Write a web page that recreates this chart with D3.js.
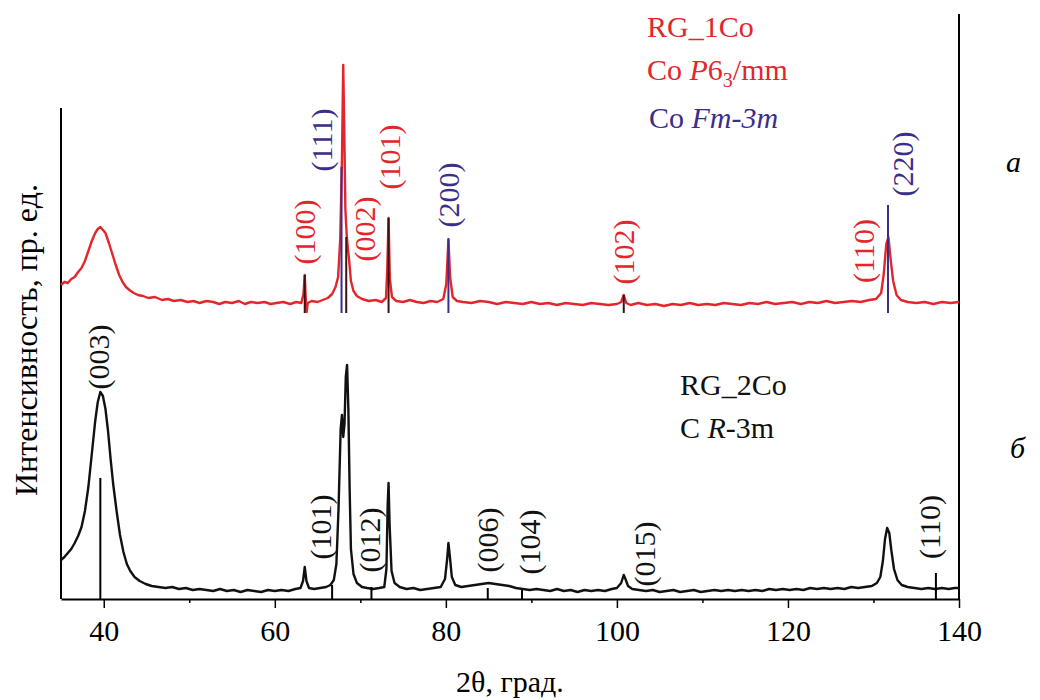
<!DOCTYPE html>
<html>
<head>
<meta charset="utf-8">
<script src="https://cdn.jsdelivr.net/npm/d3@7"></script>
<style>
  body { margin: 0; background: #fff; }
  svg text { font-family: "Liberation Serif", "Times New Roman", serif; }
</style>
</head>
<body>
<div id="chart"></div>
<script>
// top pattern RG_1Co (red), [2theta, intensity]
var topSeries = [[35,314],[35.4,317],[35.8,316],[36.2,320],[36.6,322],[37,327],[37.4,331],[37.8,338],[38.2,348],[38.6,358],[39,366],[39.3,370],[39.6,372],[39.9,369],[40.2,366],[40.6,356],[41,345],[41.4,334],[41.8,324],[42.2,317],[42.6,312],[43,309],[43.5,306],[44,304],[44.6,303],[45.2,301],[46,302],[46.8,299],[47.5,300],[48.2,298],[49,299],[49.8,297],[50.5,298],[51.2,296],[52,298],[52.8,297],[53.5,295],[54.2,297],[55,296],[55.8,298],[56.5,295],[57.2,297],[58,296],[58.8,297],[59.5,295],[60.2,296],[61,297],[61.8,295],[62.5,297],[63.1,296],[63.35,305],[63.5,324],[63.62,300],[63.72,287],[63.85,296],[64.3,298],[65,297],[65.6,299],[66.2,301],[66.7,305],[67.1,312],[67.4,322],[67.65,360],[67.85,440],[68,534],[68.12,470],[68.25,390],[68.4,365],[68.55,350],[68.7,338],[68.9,318],[69.2,308],[69.6,303],[70.2,300],[71,298],[71.8,299],[72.5,297],[73,301],[73.15,330],[73.3,381],[73.45,320],[73.7,302],[74.2,298],[75,297],[75.8,299],[76.6,297],[77.4,296],[78.2,298],[79,297],[79.7,300],[80.05,315],[80.3,359],[80.5,322],[80.8,302],[81.3,298],[82,297],[83,296],[84,298],[85,297],[86,295],[87,297],[88,296],[89,295],[90,297],[91,295],[92,296],[93,294],[94,296],[95,295],[96,294],[97,296],[98,295],[99,294],[100,295],[100.5,297],[100.8,304],[101.1,296],[101.6,294],[102.5,296],[103.5,294],[104.5,295],[105.5,293],[106.5,295],[107.5,294],[108.5,296],[109.5,294],[110.5,295],[111.5,294],[112.5,296],[113.5,295],[114.5,294],[115.5,296],[116.5,295],[117.5,297],[118.5,295],[119.5,296],[120.5,297],[121.5,295],[122.5,297],[123.5,296],[124.5,298],[125.5,296],[126.5,297],[127.5,298],[128.5,297],[129.5,299],[130.3,300],[130.9,306],[131.2,325],[131.5,355],[131.75,362],[132,340],[132.3,318],[132.7,304],[133.2,299],[134,297],[135,296],[136,297],[137,295],[138,297],[139,296],[140,297]];

// bottom pattern RG_2Co (black)
var bottomSeries = [[35,39],[35.4,42],[35.8,46],[36.2,50],[36.6,56],[37,63],[37.4,72],[37.8,88],[38.2,112],[38.6,145],[39,178],[39.3,197],[39.6,207],[39.9,203],[40.2,190],[40.5,168],[40.8,140],[41.1,115],[41.5,88],[41.9,64],[42.3,47],[42.7,35],[43.1,28],[43.6,22],[44.2,18],[44.9,15],[45.6,13],[46.4,12],[47.2,11],[48,12],[48.8,10],[49.6,11],[50.4,9],[51.2,10],[52,9],[52.8,8],[53.6,10],[54.4,8],[55.2,9],[56,7],[56.8,9],[57.6,8],[58.4,7],[59.2,9],[60,8],[60.8,9],[61.6,8],[62.4,10],[63,11],[63.3,18],[63.5,32],[63.7,18],[64,11],[64.6,10],[65.3,11],[66,12],[66.5,14],[66.9,19],[67.2,35],[67.45,90],[67.7,170],[67.85,184],[68.0,162],[68.15,175],[68.3,222],[68.45,234],[68.6,190],[68.75,110],[68.9,50],[69.2,25],[69.6,16],[70.2,12],[70.8,11],[71.5,10],[72.2,11],[72.8,12],[73.05,30],[73.2,95],[73.3,116],[73.42,75],[73.65,28],[74,16],[74.6,12],[75.4,10],[76.2,11],[77,9],[77.8,10],[78.6,11],[79.4,12],[79.9,20],[80.15,40],[80.3,56],[80.45,44],[80.7,22],[81.1,14],[81.8,12],[82.6,13],[83.4,14],[84.2,15],[85,16],[85.8,15],[86.6,14],[87.4,13],[88.2,11],[89,10],[89.8,9],[90.6,10],[91.4,9],[92.2,8],[93,10],[93.8,8],[94.6,9],[95.4,7],[96.2,9],[97,8],[97.8,9],[98.6,8],[99.4,10],[100,11],[100.5,16],[100.8,24],[101,20],[101.3,13],[101.8,10],[102.6,9],[103.4,8],[104.2,9],[105,7],[105.8,8],[106.6,9],[107.4,7],[108.2,8],[109,9],[109.8,7],[110.6,8],[111.4,9],[112.2,8],[113,9],[113.8,8],[114.6,9],[115.4,8],[116.2,9],[117,8],[117.8,10],[118.6,9],[119.4,10],[120.2,9],[121,10],[121.8,9],[122.6,11],[123.4,10],[124.2,11],[125,10],[125.8,11],[126.6,10],[127.4,12],[128.2,11],[129,12],[129.8,13],[130.4,16],[130.8,22],[131.1,38],[131.35,60],[131.6,71],[131.85,66],[132.1,48],[132.4,30],[132.8,19],[133.3,14],[134,12],[134.8,11],[135.6,10],[136.4,11],[137.2,10],[138,11],[138.8,10],[139.5,11],[140,11]];

// reference sticks [2theta, from, to]
var hcpSticks = [[63.5,286,324],[68.35,286,362],[73.3,286,381],[100.8,286,304]];
var fccSticks = [[67.8,286,432],[80.3,286,361],[131.7,286,394]];
var r3mSticks = [[39.6,0,121],[66.7,0,14],[71.3,0,12],[84.9,0,11],[88.9,0,9],[137.3,0,26]];

// peak labels [text, 2theta, intensity at label centre, phase]
var topLabels = [["(100)",63.5,367,"hcp"],["(111)",65.5,459,"fcc"],["(002)",70.5,370,"hcp"],["(101)",73.4,442,"hcp"],["(200)",80.3,404,"fcc"],["(102)",100.8,347,"hcp"],["(110)",128.8,348,"hcp"],["(220)",133.4,435,"fcc"]];
var bottomLabels = [["(003)",39.4,242],["(101)",65.4,72],["(012)",71.1,59],["(006)",84.9,59],["(104)",89.8,57],["(015)",103.2,45],["(110)",136.5,72]];

var majorTicks = [40, 60, 80, 100, 120, 140];
var minorTicks = [50, 70, 90, 110, 130];

var red = "#e3262b", blue = "#3b2d8c", stickDark = "#3a1212";

var width = 1040, height = 700;

var svg = d3.select("#chart").append("svg")
    .attr("width", width)
    .attr("height", height);

var x = d3.scaleLinear().domain([35, 140]).range([61, 959]);
var y = d3.scaleLinear().domain([0, 585]).range([599, 14]);

var line = d3.line()
    .x(function(d) { return x(d[0]); })
    .y(function(d) { return y(d[1]); });

// axes frame
svg.append("line").attr("x1", x(35)).attr("x2", x(35)).attr("y1", y(0)).attr("y2", 108)
    .attr("stroke", "#000").attr("stroke-width", 2);
svg.append("line").attr("x1", x(140)).attr("x2", x(140)).attr("y1", y(0)).attr("y2", y(585))
    .attr("stroke", "#000").attr("stroke-width", 2);

var gx = svg.append("g").attr("transform", "translate(0," + y(0) + ")")
    .call(d3.axisBottom(x).tickValues(majorTicks).tickSize(9).tickSizeOuter(0).tickPadding(12));
gx.select(".domain").attr("stroke-width", 2);
gx.selectAll(".tick line").attr("stroke-width", 1.5);
gx.selectAll(".tick text").attr("font-size", 30).attr("font-family", "Liberation Serif");

var gm = svg.append("g").attr("transform", "translate(0," + y(0) + ")")
    .call(d3.axisBottom(x).tickValues(minorTicks).tickSize(4).tickSizeOuter(0).tickFormat(""));
gm.select(".domain").remove();
gm.selectAll(".tick line").attr("stroke-width", 1.5);

// patterns
svg.append("path").datum(bottomSeries).attr("d", line)
    .attr("fill", "none").attr("stroke", "#111").attr("stroke-width", 2.4).attr("stroke-linejoin", "round");
svg.append("path").datum(topSeries).attr("d", line)
    .attr("fill", "none").attr("stroke", red).attr("stroke-width", 2.4).attr("stroke-linejoin", "round");

function sticks(data, color) {
    svg.append("g").selectAll("line").data(data).enter().append("line")
        .attr("x1", function(d) { return x(d[0]); })
        .attr("x2", function(d) { return x(d[0]); })
        .attr("y1", function(d) { return y(d[1]); })
        .attr("y2", function(d) { return y(d[2]); })
        .attr("stroke", color).attr("stroke-width", 2);
}
sticks(hcpSticks, stickDark);
sticks(fccSticks, blue);
sticks(r3mSticks, "#000");

// hkl labels
function hkl(data, colorFn) {
    svg.append("g").selectAll("text").data(data).enter().append("text")
        .attr("transform", function(d) { return "translate(" + x(d[1]) + "," + y(d[2]) + ") rotate(-90)"; })
        .attr("text-anchor", "middle")
        .attr("dominant-baseline", "central")
        .attr("font-size", 30)
        .attr("fill", colorFn)
        .text(function(d) { return d[0]; });
}
hkl(topLabels, function(d) { return d[3] == "fcc" ? blue : red; });
hkl(bottomLabels, function() { return "#111"; });

// legends
var leg = svg.append("g").attr("font-size", 30);
leg.append("text").attr("x", 647).attr("y", 37).attr("fill", red).text("RG_1Co");
var l2 = leg.append("text").attr("x", 647).attr("y", 80).attr("fill", red);
l2.append("tspan").text("Co ");
l2.append("tspan").attr("font-style", "italic").text("P");
l2.append("tspan").text("6");
l2.append("tspan").attr("font-size", 20).attr("dy", 7).text("3");
l2.append("tspan").attr("dy", -7).text("/mm");
var l3 = leg.append("text").attr("x", 649).attr("y", 128).attr("fill", blue);
l3.append("tspan").text("Co ");
l3.append("tspan").attr("font-style", "italic").text("Fm-3m");

leg.append("text").attr("x", 680).attr("y", 395).attr("fill", "#111").text("RG_2Co");
var l4 = leg.append("text").attr("x", 680).attr("y", 438).attr("fill", "#111");
l4.append("tspan").text("C ");
l4.append("tspan").attr("font-style", "italic").text("R");
l4.append("tspan").text("-3m");

// panel letters
svg.append("text").attr("x", 1006).attr("y", 172).attr("font-size", 30).attr("font-style", "italic").text("а");
svg.append("text").attr("x", 1010).attr("y", 458).attr("font-size", 30).attr("font-style", "italic").text("б");

// axis titles
svg.append("text").attr("x", 510).attr("y", 692).attr("text-anchor", "middle").attr("font-size", 30).text("2θ, град.");
svg.append("text").attr("transform", "translate(26,340) rotate(-90)")
    .attr("text-anchor", "middle").attr("dominant-baseline", "central")
    .attr("font-size", 32).text("Интенсивность, пр. ед.");
</script>
</body>
</html>
